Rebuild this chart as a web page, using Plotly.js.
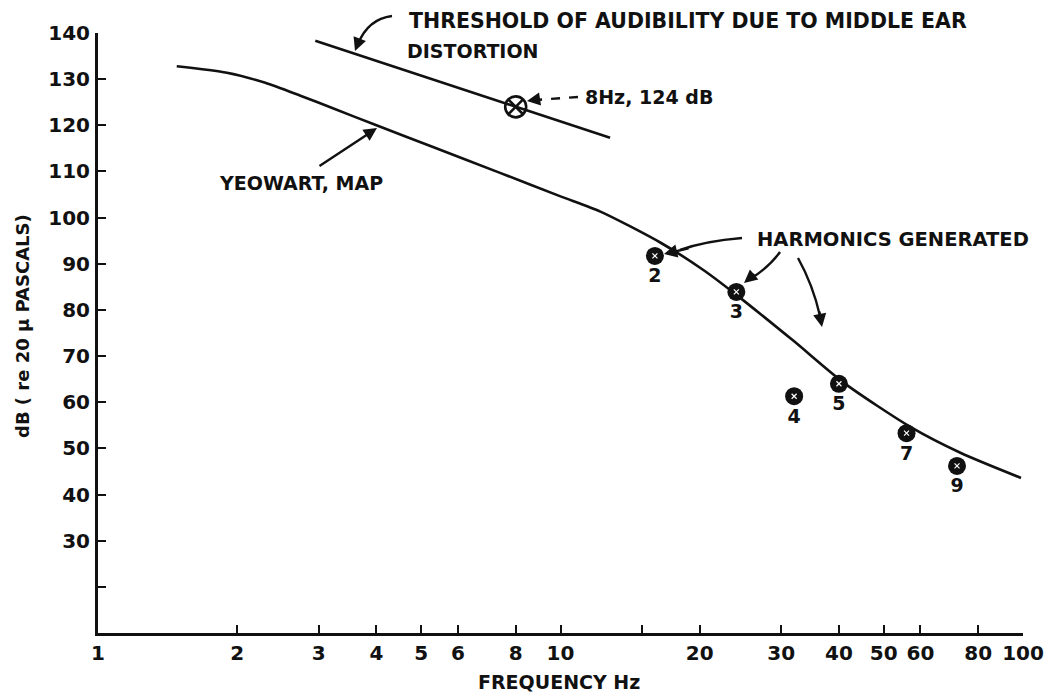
<!DOCTYPE html>
<html>
<head>
<meta charset="utf-8">
<script src="https://cdn.plot.ly/plotly-3.0.1.min.js"></script>
<style>
  html, body { margin: 0; padding: 0; background: #fff; }
  #chart { width: 1048px; height: 699px; }
</style>
</head>
<body>
<div id="chart"></div>
<script>
// ---- data ----
const yeowartFreq = [1.48, 1.9, 2.3, 2.74, 3.22, 4.0, 5.3, 7.4, 10, 12.2, 16.5, 20.4, 23.7, 31.9, 41, 57.2, 73.4, 99];
const yeowartDb   = [132.8, 131.4, 129.2, 126.4, 123.7, 120.0, 115.3, 109.7, 104.6, 101.3, 94.5, 88.6, 83.7, 73.3, 64.2, 54.6, 49.0, 43.6];

const thresholdFreq = [2.95, 8, 12.8];
const thresholdDb   = [138.3, 124, 117.3];

const pointFreq = [8];
const pointDb   = [124];

const harmonicFreq  = [16, 24, 32, 40, 56, 72];
const harmonicDb    = [91.7, 83.9, 61.3, 64.0, 53.3, 46.2];
const harmonicLabel = ['2', '3', '4', '5', '7', '9'];

const freqTicks      = [1, 2, 3, 4, 5, 6, 8, 10, 15, 20, 30, 40, 50, 60, 80, 100];
const freqTickLabels = ['1', '2', '3', '4', '5', '6', '8', '10', '', '20', '30', '40', '50', '60', '80', '100'];
const dbTicks        = [20, 30, 40, 50, 60, 70, 80, 90, 100, 110, 120, 130, 140];
const dbTickLabels   = ['', '30', '40', '50', '60', '70', '80', '90', '100', '110', '120', '130', '140'];

// ---- layout helpers (pixel -> paper) ----
const W = 1048, H = 699;
const M = { l: 98, r: 25, t: 33, b: 66 };
const PW = W - M.l - M.r, PH = H - M.t - M.b;
const px = x => (x - M.l) / PW;
const py = y => (H - M.b - y) / PH;

const FONT = 'DejaVu Sans, Liberation Sans, Arial, sans-serif';
const boldFont = (size) => ({ family: FONT, size: size, color: '#111', weight: 'bold' });

const traces = [
  { x: yeowartFreq, y: yeowartDb, mode: 'lines', type: 'scatter',
    line: { color: '#111', width: 2.6, shape: 'spline', smoothing: 0.7 }, hoverinfo: 'skip' },
  { x: thresholdFreq, y: thresholdDb, mode: 'lines', type: 'scatter',
    line: { color: '#111', width: 2.6 }, hoverinfo: 'skip' },
  { x: pointFreq, y: pointDb, mode: 'markers', type: 'scatter',
    marker: { symbol: 'circle-x-open', size: 21, color: '#111', line: { color: '#111', width: 2.6 } }, hoverinfo: 'skip' },
  { x: harmonicFreq, y: harmonicDb, mode: 'markers+text', type: 'scatter',
    text: harmonicLabel, textposition: 'bottom center', textfont: boldFont(19),
    marker: { symbol: 'circle', size: 18, color: '#111' }, hoverinfo: 'skip' },
  { x: harmonicFreq, y: harmonicDb, mode: 'markers', type: 'scatter',
    marker: { symbol: 'x-thin', size: 5, color: '#fff', line: { color: '#fff', width: 1.2 } }, hoverinfo: 'skip' }
];

function textAnn(text, x, y, size) {
  return { text: text, xref: 'paper', yref: 'paper', x: px(x), y: py(y),
           xanchor: 'left', yanchor: 'middle', showarrow: false, font: boldFont(size || 19) };
}
function arrowAnn(tailX, tailY, tipX, tipY) {
  return { text: '', xref: 'paper', yref: 'paper', x: px(tipX), y: py(tipY),
           ax: tailX - tipX, ay: tailY - tipY, showarrow: true,
           arrowhead: 2, arrowsize: 1.1, arrowwidth: 2.4, arrowcolor: '#111', standoff: 0 };
}
function pathShape(d, dash) {
  return { type: 'path', xref: 'paper', yref: 'paper', path: d,
           line: { color: '#111', width: 2.4, dash: dash || 'solid' } };
}
const P = (x, y) => px(x).toFixed(5) + ',' + py(y).toFixed(5);

const annotations = [
  textAnn('THRESHOLD OF AUDIBILITY DUE TO MIDDLE EAR', 407, 21, 20.5),
  textAnn('DISTORTION', 405, 51),
  textAnn('8Hz, 124 dB', 583, 97),
  textAnn('YEOWART, MAP', 217, 183),
  textAnn('HARMONICS GENERATED', 755, 240, 19.5),
  // arrowheads (short), bodies drawn as paths
  arrowAnn(360, 38, 355, 51),
  arrowAnn(318, 167, 377, 128),
  arrowAnn(690, 248, 664, 254),
  arrowAnn(756, 273, 744, 283),
  arrowAnn(819, 310, 822, 327),
  arrowAnn(540, 99, 527, 101),
  { text: 'FREQUENCY Hz', xref: 'paper', yref: 'paper', x: px(559), y: py(682),
    xanchor: 'center', yanchor: 'middle', showarrow: false, font: boldFont(19) },
  { text: 'dB ( re 20 \u03bc PASCALS)', xref: 'paper', yref: 'paper', x: px(22), y: py(326),
    xanchor: 'center', yanchor: 'middle', textangle: -90, showarrow: false, font: boldFont(18) }
];

const shapes = [
  pathShape('M' + P(392, 16) + ' Q' + P(368, 19) + ' ' + P(358, 44)),
  pathShape('M' + P(742, 238) + ' Q' + P(705, 241) + ' ' + P(680, 250)),
  pathShape('M' + P(780, 252) + ' Q' + P(770, 266) + ' ' + P(752, 278)),
  pathShape('M' + P(798, 258) + ' Q' + P(813, 285) + ' ' + P(820, 316)),
  pathShape('M' + P(578, 97) + ' L' + P(536, 100), 'dash')
];

const axisCommon = {
  showline: true, linecolor: '#111', linewidth: 3, showgrid: false, zeroline: false,
  ticks: 'inside', ticklen: 8, tickwidth: 2, tickcolor: '#111',
  tickfont: boldFont(20), tickmode: 'array', fixedrange: true
};

const layout = {
  width: W, height: H, margin: M,
  paper_bgcolor: '#fff', plot_bgcolor: '#fff', showlegend: false,
  xaxis: Object.assign({}, axisCommon, { type: 'log', range: [0, 2], tickvals: freqTicks, ticktext: freqTickLabels, ticklabelstandoff: 0 }),
  yaxis: Object.assign({}, axisCommon, { range: [10, 140], tickvals: dbTicks, ticktext: dbTickLabels, ticklabelstandoff: 1 }),
  annotations: annotations, shapes: shapes
};

Plotly.newPlot('chart', traces, layout, { displayModeBar: false, staticPlot: true });
</script>
</body>
</html>
